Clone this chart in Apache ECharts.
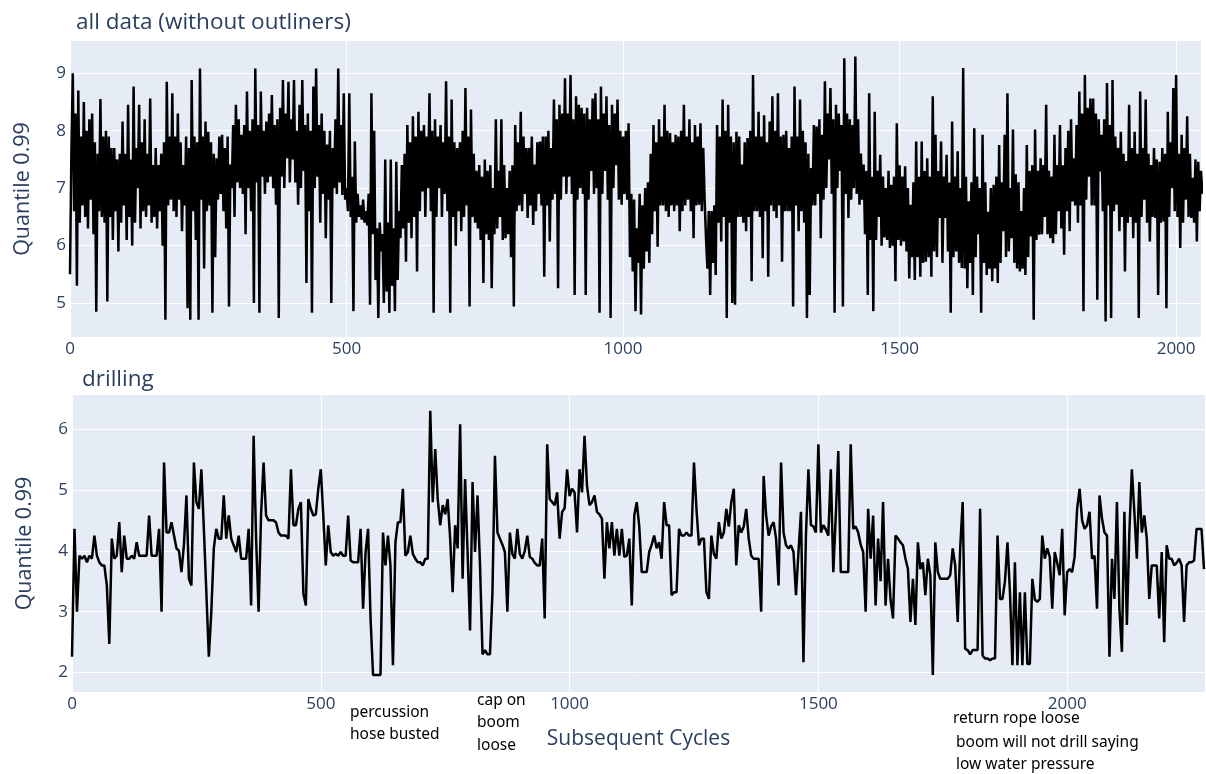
<!DOCTYPE html>
<html>
<head>
<meta charset="utf-8">
<script src="https://cdn.jsdelivr.net/npm/echarts/dist/echarts.min.js"></script>
<style>
  html, body { margin: 0; padding: 0; background: #ffffff; }
  #chart { width: 1206px; height: 774px; }
</style>
</head>
<body>
<div id="chart"></div>
<script>
// ---- data ----
const topTitle = 'all data (without outliners)';
const bottomTitle = 'drilling';
const yName = 'Quantile 0.99';
const xName = 'Subsequent Cycles';

const topStep = 2.5;    // cycle spacing between samples
const bottomStep = 5;
const topXMax = 2045;
const bottomXMax = 2277;

const xTicksTop = [0, 500, 1000, 1500, 2000];
const xTicksBottom = [0, 500, 1000, 1500, 2000];
const yTicksTop = [5, 6, 7, 8, 9];
const yTicksBottom = [2, 3, 4, 5, 6];

const topValues = [
  5.5,7.6, 9.0,6.6, 8.3,5.3, 8.7,6.4, 7.9,6.7, 8.5,6.5, 8.0,6.3, 8.2,6.8, 8.3,6.2, 7.8,4.85,
  7.6,6.6, 8.55,6.5, 7.9,6.4, 8.0,5.03, 7.9,6.5, 7.7,6.1, 7.7,6.6, 7.5,5.9, 7.6,6.4, 8.16,6.7,
  7.6,6.1, 8.45,6.5, 7.5,6.0, 8.77,6.4, 7.7,7.0, 8.45,6.3, 7.8,6.6, 8.2,6.5, 7.6,6.7, 8.56,6.4,
  7.4,6.5, 7.7,6.3, 7.4,6.6, 7.6,6.0, 7.8,4.71, 8.85,6.7, 7.9,6.8, 8.65,6.6, 7.9,6.5, 8.3,6.8,
  7.8,6.25, 7.4,6.7, 7.9,4.91, 7.7,4.71, 8.88,6.6, 7.9,6.1, 7.8,4.71, 9.08,6.8, 7.9,5.6, 8.16,6.6,
  7.98,6.7, 7.8,4.83, 7.6,5.8, 7.52,6.8, 7.9,6.9, 7.93,6.6, 7.7,6.3, 7.9,4.94, 7.41,7.0, 8.1,6.5,
  8.45,7.1, 8.2,7.0, 7.93,6.9, 8.1,6.2, 8.68,7.0, 8.0,6.6, 8.2,5.0, 9.08,7.1, 8.1,4.83, 8.68,7.2,
  8.0,6.9, 8.16,7.1, 8.3,7.2, 8.62,7.0, 8.1,6.71, 8.2,4.74, 8.4,7.2, 8.88,7.0, 8.3,7.52, 8.85,7.1,
  8.2,7.5, 8.88,7.1, 8.0,6.71, 8.45,7.0, 8.88,7.3, 8.1,5.35, 8.3,6.6, 8.0,4.83, 8.77,7.0, 9.08,7.2,
  8.1,6.4, 8.3,6.9, 8.0,6.13, 7.76,6.8, 8.0,5.0, 7.7,7.0, 8.2,6.9, 9.08,7.1, 8.1,6.88, 8.65,6.8,
  7.0,6.6, 8.65,6.5, 7.2,4.86, 7.81,6.4, 6.9,6.5, 6.7,6.45, 6.8,6.4, 6.6,6.35, 6.9,4.97, 8.65,6.2,
  8.0,5.4, 6.3,4.74, 6.4,5.9, 6.2,5.0, 7.5,5.2, 6.4,4.83, 7.5,5.3, 6.3,4.86, 7.46,5.4, 6.6,6.13,
  7.4,6.3, 7.6,5.72, 8.1,6.4, 7.8,6.13, 8.25,6.5, 7.9,5.55, 8.33,6.6, 8.0,6.94, 8.1,6.5, 7.9,7.0,
  8.65,6.6, 8.0,4.83, 8.2,6.5, 7.9,7.0, 8.1,6.5, 7.8,6.9, 8.86,6.6, 7.9,4.83, 8.54,6.5, 7.8,6.0,
  7.7,6.6, 7.8,6.25, 8.0,6.5, 8.74,6.7, 7.9,4.94, 8.37,6.5, 7.6,6.4, 7.3,6.3, 7.4,6.1, 7.2,5.35,
  7.5,6.2, 7.3,6.1, 7.4,5.26, 7.0,6.2, 8.2,6.3, 7.3,6.5, 8.2,6.1, 7.4,6.13, 7.0,6.2, 7.3,5.8,
  7.4,4.94, 8.1,6.6, 7.8,6.7, 8.33,6.6, 7.9,6.9, 7.7,6.48, 7.7,6.7, 7.9,6.36, 7.41,6.6, 7.8,6.9,
  7.81,6.7, 7.9,5.46, 7.9,6.7, 8.0,6.07, 7.7,6.8, 8.54,6.9, 8.2,5.26, 8.45,6.8, 8.3,7.2, 8.91,6.9,
  8.3,7.2, 8.97,6.9, 8.2,5.14, 8.6,6.8, 8.45,7.0, 8.4,6.9, 8.3,5.14, 8.4,6.8, 8.2,7.3, 8.56,6.9,
  8.65,7.0, 8.2,4.83, 8.77,6.9, 8.3,7.3, 8.6,6.8, 8.1,4.74, 8.45,7.0, 8.3,7.4, 8.54,6.8, 8.0,6.71,
  7.9,6.9, 8.0,6.8, 8.13,5.8, 6.9,5.55, 6.8,4.86, 6.3,5.7, 6.9,4.8, 6.7,5.6, 7.0,5.9, 7.1,5.7,
  7.6,6.2, 8.1,6.6, 7.8,5.98, 8.2,6.7, 7.9,6.7, 8.45,6.6, 8.0,6.5, 7.96,6.7, 7.8,6.6, 7.93,6.7,
  7.9,6.25, 8.0,6.6, 8.45,6.7, 7.9,6.8, 8.2,6.6, 7.8,6.13, 8.1,6.7, 7.9,6.71, 8.13,6.6, 7.7,6.8,
  6.13,5.6, 6.6,5.14, 6.6,5.7, 6.7,5.49, 8.1,6.4, 7.9,6.07, 8.54,6.5, 8.0,4.74, 8.45,6.4, 7.9,5.0,
  7.8,4.97, 7.98,6.5, 7.9,6.5, 7.41,6.4, 7.8,6.25, 7.87,6.5, 8.0,5.38, 8.97,6.6, 7.9,6.6, 8.33,6.5,
  7.9,5.78, 8.27,6.6, 7.8,5.46, 8.16,6.7, 8.6,6.6, 8.0,6.48, 8.65,6.7, 7.9,5.72, 7.93,6.6, 8.0,6.6,
  7.7,6.6, 7.9,4.94, 8.77,6.7, 7.9,6.25, 8.54,6.6, 8.0,6.4, 7.8,4.74, 7.6,5.14, 7.35,6.7, 8.1,6.7,
  8.07,6.9, 8.2,6.13, 7.93,6.8, 8.86,7.0, 8.3,7.5, 8.74,6.9, 8.2,4.83, 8.45,7.0, 8.3,7.3, 8.1,4.94,
  9.26,6.9, 8.3,6.48, 8.2,6.8, 8.1,7.0, 9.29,6.9, 8.2,6.71, 7.6,6.8, 7.41,6.2, 7.3,5.14, 8.65,6.1,
  7.2,4.86, 8.33,6.1, 7.3,6.5, 7.58,6.0, 7.2,6.14, 7.0,6.1, 7.3,5.96, 7.06,6.0, 7.2,5.38, 8.13,6.1,
  7.4,6.0, 7.2,6.07, 7.38,5.9, 7.0,5.43, 6.71,5.8, 7.1,5.4, 7.81,5.8, 7.2,5.46, 7.81,5.7, 7.3,5.72,
  7.52,5.8, 7.2,5.46, 8.6,5.9, 7.93,5.8, 7.3,6.48, 7.81,5.7, 7.2,6.48, 7.58,5.9, 7.1,4.83, 8.16,5.8,
  7.2,5.9, 7.64,5.7, 7.0,5.61, 9.09,5.6, 7.2,5.26, 6.77,5.7, 7.1,5.14, 8.04,5.8, 7.2,6.2, 7.0,4.83,
  7.93,5.7, 7.1,5.49, 6.59,5.6, 7.0,5.38, 7.06,5.6, 7.2,5.35, 7.75,5.7, 7.1,6.25, 7.93,5.8, 8.65,5.9,
  7.0,6.13, 8.02,5.7, 7.24,5.6, 7.1,5.55, 6.6,5.6, 7.0,5.49, 7.75,5.8, 7.3,6.16, 7.4,4.71, 8.02,6.1,
  7.3,6.19, 7.52,6.2, 7.4,6.5, 8.45,6.2, 7.3,6.13, 7.2,6.04, 7.93,6.2, 7.4,6.6, 8.1,6.3, 7.4,5.84,
  7.7,6.6, 8.0,6.25, 8.2,6.77, 7.52,6.7, 8.1,6.4, 8.68,6.7, 8.3,4.86, 8.97,6.8, 8.4,7.2, 8.56,6.7,
  8.56,6.7, 8.3,5.06, 8.2,7.29, 7.93,6.6, 8.2,4.68, 8.83,6.7, 8.1,4.74, 8.88,6.6, 7.9,6.71, 7.7,6.25,
  7.98,6.5, 7.6,5.55, 7.47,6.4, 8.45,6.5, 7.7,6.13, 7.98,6.4, 7.6,4.74, 8.68,6.5, 7.7,6.8, 8.54,6.4,
  7.6,6.07, 7.4,6.5, 7.7,6.48, 7.5,5.14, 7.46,6.4, 7.7,6.42, 7.6,4.91, 8.33,6.5, 7.8,7.0, 8.74,6.6,
  8.97,6.5, 7.6,5.96, 7.93,6.4, 7.7,6.8, 8.25,6.5, 7.6,6.48, 7.18,6.4, 7.5,6.07, 7.46,6.6, 7.3,6.9
];

const bottomValues = [
  2.26, 4.36, 3.0, 3.92, 3.87, 3.92, 3.81, 3.92, 3.87, 4.25,
  3.92, 3.81, 3.76, 3.76, 3.43, 2.47, 4.2, 3.87, 3.92, 4.47,
  3.65, 4.25, 3.87, 3.87, 3.92, 3.87, 4.14, 3.92, 3.92, 3.92,
  3.92, 4.58, 3.92, 3.92, 3.92, 4.36, 3.0, 5.45, 4.3, 4.3,
  4.47, 4.25, 4.04, 4.0, 3.65, 4.1, 4.91, 3.54, 3.43, 5.45,
  4.8, 4.69, 5.34, 4.36, 3.32, 2.26, 3.0, 4.04, 4.36, 4.2,
  4.2, 4.91, 4.2, 4.58, 4.2, 4.09, 3.98, 4.25, 3.87, 3.87,
  3.87, 4.36, 3.1, 5.89, 4.2, 3.0, 4.6, 5.45, 4.58, 4.5,
  4.5, 4.5, 4.47, 4.3, 4.25, 4.25, 4.25, 4.2, 5.34, 4.42,
  4.42, 4.69, 4.8, 3.3, 3.1, 4.85, 4.69, 4.58, 4.6, 5.02,
  5.34, 4.58, 3.76, 4.42, 3.98, 3.92, 3.95, 3.92, 3.98, 3.92,
  3.92, 4.58, 3.84, 3.81, 3.81, 3.81, 4.36, 3.05, 3.98, 4.36,
  2.89, 1.96, 1.96, 1.96, 1.96, 4.3, 3.76, 4.25, 3.76, 2.12,
  4.14, 4.47, 4.47, 5.02, 3.92, 3.98, 4.25, 3.95, 3.87, 3.81,
  3.81, 3.76, 3.87, 3.87, 6.3, 4.8, 5.67, 4.85, 4.42, 4.75,
  4.6, 4.85, 4.2, 3.32, 4.42, 4.04, 6.08, 3.54, 5.18, 3.98,
  2.69, 5.13, 3.98, 4.91, 3.76, 2.3, 2.37, 2.3, 2.3, 3.32,
  5.56, 4.3, 4.2, 4.1, 3.98, 3.0, 4.3, 3.95, 3.87, 4.36,
  3.95, 3.87, 4.0, 4.25, 3.9, 3.87, 3.8, 3.76, 3.76, 4.2,
  2.89, 5.75, 4.85, 4.8, 4.75, 4.96, 4.2, 4.64, 4.7, 5.34,
  4.9, 5.02, 4.96, 4.3, 5.34, 4.96, 5.89, 5.07, 4.75, 4.8,
  4.91, 4.64, 4.6, 4.53, 3.54, 4.47, 4.04, 4.47, 3.92, 4.36,
  3.92, 4.36, 3.9, 3.92, 4.2, 3.1, 4.58, 4.8, 4.4, 3.65,
  3.65, 3.65, 3.98, 4.1, 4.25, 4.04, 4.14, 3.87, 4.8, 4.42,
  4.42, 3.27, 3.32, 3.32, 4.36, 4.25, 4.25, 4.3, 4.25, 4.25,
  5.45, 4.69, 4.09, 4.2, 4.2, 3.32, 3.21, 4.25, 3.95, 3.87,
  4.47, 4.2, 4.3, 4.69, 4.4, 4.8, 5.02, 3.76, 4.42, 4.3,
  4.4, 4.69, 4.2, 3.92, 3.87, 3.87, 3.87, 3.0, 5.23, 4.58,
  4.25, 4.4, 4.47, 4.2, 3.43, 5.45, 4.3, 4.09, 4.04, 4.09,
  3.98, 3.27, 3.98, 4.64, 2.17, 4.25, 5.34, 4.42, 4.4, 4.3,
  5.75, 4.3, 4.42, 4.35, 4.25, 5.34, 3.65, 4.58, 5.64, 3.65,
  3.65, 3.65, 3.65, 5.75, 4.36, 4.4, 4.3, 4.1, 3.98, 3.0,
  4.69, 3.87, 4.58, 3.1, 4.2, 3.5, 4.8, 3.1, 3.87, 3.2,
  2.89, 4.25, 4.2, 4.14, 4.09, 3.87, 3.7, 2.83, 3.54, 2.78,
  4.14, 3.7, 3.81, 3.27, 3.87, 3.6, 1.96, 4.14, 3.65, 3.54,
  3.54, 3.54, 3.54, 3.6, 4.04, 3.76, 2.83, 4.04, 4.8, 2.39,
  2.37, 2.3, 2.37, 2.37, 2.37, 4.69, 2.28, 2.23, 2.23, 2.2,
  2.23, 2.23, 4.25, 3.21, 3.21, 3.5, 4.14, 3.32, 2.12, 3.81,
  2.12, 3.32, 2.12, 3.32, 2.14, 2.14, 3.54, 3.2, 3.16, 3.21,
  4.25, 3.87, 4.04, 3.9, 3.05, 3.98, 3.8, 3.6, 4.36, 2.94,
  3.65, 3.7, 3.65, 3.9, 4.69, 5.02, 4.5, 4.36, 4.42, 4.64,
  3.87, 3.92, 3.05, 4.91, 4.53, 4.3, 4.25, 2.26, 3.87, 3.21,
  4.8, 3.05, 2.34, 4.64, 2.78, 4.3, 5.34, 4.64, 3.87, 5.13,
  4.3, 4.58, 4.2, 3.21, 3.76, 3.76, 3.76, 2.89, 3.98, 2.5,
  4.09, 3.87, 3.87, 3.76, 3.8, 3.87, 3.76, 2.83, 3.76, 3.81,
  3.81, 3.84, 4.36, 4.36, 4.36, 3.7
];

const notePercussion = 'percussion\nhose busted';
const noteCap = 'cap on\nboom\nloose';
const noteRope = 'return rope loose';
const noteBoom = 'boom will not drill saying\nlow water pressure';

// ---- chart ----
const topData = topValues.map((v, i) => [i * topStep, v]);
const bottomData = bottomValues.map((v, i) => [i * bottomStep, v]);

const FONT = '"Open Sans", "Noto Sans", sans-serif';
const TXT = '#2a3f5f';
const NOTE_FONT = '15.5px "Noto Sans", sans-serif';

function xAxisCfg(gridIndex, max, ticks, withName) {
  return {
    type: 'value', gridIndex, min: 0, max,
    axisLine: { show: false },
    axisTick: { show: false, customValues: ticks },
    axisLabel: { customValues: ticks, color: TXT, fontSize: 17, fontFamily: FONT, margin: 4,
                 formatter: (v) => String(v) },
    splitLine: { show: true, lineStyle: { color: '#ffffff', width: 1 } },
    name: withName ? xName : '',
    nameLocation: 'middle', nameGap: 37,
    nameTextStyle: { color: TXT, fontSize: 21, fontFamily: FONT }
  };
}
function yAxisCfg(gridIndex, min, max, ticks) {
  return {
    type: 'value', gridIndex, min, max,
    axisLine: { show: false },
    axisTick: { show: false, customValues: ticks },
    axisLabel: { customValues: ticks, color: TXT, fontSize: 17, fontFamily: FONT, margin: 4,
                 formatter: (v) => String(v) },
    splitLine: { show: true, lineStyle: { color: '#ffffff', width: 1 } },
    name: yName, nameLocation: 'middle', nameGap: 36,
    nameTextStyle: { color: TXT, fontSize: 21.5, fontFamily: FONT }
  };
}

const chart = echarts.init(document.getElementById('chart'), null, { renderer: 'canvas' });
chart.setOption({
  animation: false,
  backgroundColor: '#ffffff',
  title: [
    { text: topTitle, left: 71, top: 6,
      textStyle: { color: TXT, fontSize: 22.5, fontWeight: 'normal', fontFamily: FONT } },
    { text: bottomTitle, left: 77, top: 363,
      textStyle: { color: TXT, fontSize: 22.5, fontWeight: 'normal', fontFamily: FONT } }
  ],
  grid: [
    { left: 70, top: 41, width: 1131, height: 296, show: true, backgroundColor: '#E5ECF6', borderWidth: 0 },
    { left: 72, top: 395, width: 1133, height: 297, show: true, backgroundColor: '#E5ECF6', borderWidth: 0 }
  ],
  xAxis: [
    xAxisCfg(0, topXMax, xTicksTop, false),
    xAxisCfg(1, bottomXMax, xTicksBottom, true)
  ],
  yAxis: [
    yAxisCfg(0, 4.41, 9.56, yTicksTop),
    yAxisCfg(1, 1.68, 6.56, yTicksBottom)
  ],
  series: [
    { type: 'line', xAxisIndex: 0, yAxisIndex: 0, data: topData, showSymbol: false,
      lineStyle: { color: '#000000', width: 2.5 }, clip: true },
    { type: 'line', xAxisIndex: 1, yAxisIndex: 1, data: bottomData, showSymbol: false,
      lineStyle: { color: '#000000', width: 2.5 }, clip: true }
  ],
  graphic: [
    { type: 'text', left: 350, top: 702,
      style: { text: notePercussion, fill: '#000', font: NOTE_FONT, lineHeight: 22 } },
    { type: 'text', left: 477, top: 689,
      style: { text: noteCap, fill: '#000', font: NOTE_FONT, lineHeight: 22.5 } },
    { type: 'text', left: 953, top: 708,
      style: { text: noteRope, fill: '#000', font: NOTE_FONT, lineHeight: 22 } },
    { type: 'text', left: 956, top: 732,
      style: { text: noteBoom, fill: '#000', font: NOTE_FONT, lineHeight: 22 } }
  ]
});
</script>
</body>
</html>
